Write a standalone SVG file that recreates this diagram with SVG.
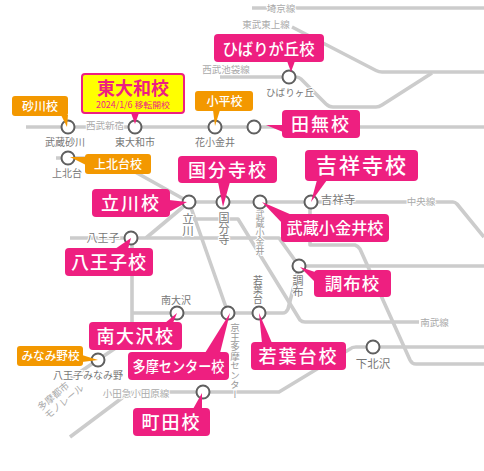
<svg xmlns="http://www.w3.org/2000/svg" width="484" height="471" viewBox="0 0 484 471">
<style>
text{font-family:"Noto Sans CJK JP","Noto Sans",sans-serif}
.l{fill:none;stroke:#ccc;stroke-width:3.600;stroke-linejoin:round}
.st{fill:#fff;stroke:#5f5f5f;stroke-width:2}
.p{fill:#ee1f80}
.o{fill:#f39800}
.w{fill:#fff;text-anchor:middle;font-weight:500}
.s{font-size:10px;fill:#777;text-anchor:middle;paint-order:stroke;stroke:#fff;stroke-width:2px}
.n{font-size:9.5px;fill:#aaa;text-anchor:middle;paint-order:stroke;stroke:#fff;stroke-width:2px}
.v{writing-mode:vertical-rl;text-anchor:start}
</style>
<rect width="484" height="471" fill="#fff"/>
<g id="connectors">
<path class="l" d="M252 8H484"/>
<path class="l" d="M292 27L376 70.500Q379 72 382 72H484"/>
<path class="l" d="M220 77H296Q299 77 301 79L326 104Q329 107 333 107H376Q379 107 382 105L432 73"/>
<path class="l" d="M26 127H484"/>
<path class="l" d="M56 158H110L189 202L228 313"/>
<path class="l" d="M189 202H453Q455 202 457 204L484 237"/>
<path class="l" d="M189 202L146 238"/>
<path class="l" d="M70 238H279L299 266H484"/>
<path class="l" d="M193 219H238L300 320Q302 322 305 322H419"/>
<path class="l" d="M310 202V245H355Q358 246 360 249L410 360Q412 364 416 364H484"/>
<path class="l" d="M132 238V337L71 378"/>
<path class="l" d="M132 313H283Q286 313 288 309L299 266"/>
<path class="l" d="M70 437L122 398Q128 392 135 392H279L350 349Q352 347 356 347H484"/>
</g>
<g id="line-labels">
<text class="n" x="281" y="12">埼京線</text>
<text class="n" x="266" y="28">東武東上線</text>
<text class="n" x="226" y="73">西武池袋線</text>
<text class="n" x="105" y="129">西武新宿</text>
<text class="n" x="421" y="205">中央線</text>
<text class="n" x="434.500" y="326">南武線</text>
<text class="n" x="136" y="397">小田急小田原線</text>
<text class="n" style="text-anchor:start" transform="translate(41 411) rotate(-40)"><tspan x="0" y="0">多摩都市</tspan><tspan x="0" dy="11">モノレール</tspan></text>
</g>
<g id="station-labels">
<text class="s" x="65" y="146">武蔵砂川</text>
<text class="s" x="135" y="146">東大和市</text>
<text class="s" x="215" y="146">花小金井</text>
<text class="s" x="290" y="95.500" style="font-size:9.600px">ひばりヶ丘</text>
<text class="s" x="67" y="177">上北台</text>
<text class="s" x="103" y="242" style="font-size:11px">八王子</text>
<text class="s" x="338" y="203.500" style="font-size:11.500px">吉祥寺</text>
<text class="s" x="176" y="304">南大沢</text>
<text class="s" x="88" y="379">八王子みなみ野</text>
<text class="s" x="373" y="368" style="font-size:11.500px">下北沢</text>
<text class="s v" x="188" y="213" style="font-size:11.500px">立川</text>
<text class="s v" x="224" y="212" style="font-size:11px">国分寺</text>
<text class="s v" x="260" y="210" style="font-size:9px;fill:#999">武蔵小金井</text>
<text class="s v" x="298" y="275" style="font-size:11px">調布</text>
<text class="s v" x="258" y="275" style="font-size:9.800px">若葉台</text>
<text class="s v" x="235" y="323" style="font-size:9.500px;fill:#999">京王多摩センター</text>
</g>
<g id="st-musashisunagawa"><circle class="st" cx="68" cy="127" r="6.500"/></g>
<g id="st-higashiyamato"><circle class="st" cx="135" cy="127" r="6.500"/></g>
<g id="st-hanakoganei"><circle class="st" cx="215" cy="127" r="6.500"/></g>
<g id="st-tanashi"><circle class="st" cx="254" cy="127" r="6.500"/></g>
<g id="st-hibarigaoka"><circle class="st" cx="289" cy="77" r="6.500"/></g>
<g id="st-kamikitadai"><circle class="st" cx="68" cy="158" r="6.500"/></g>
<g id="st-tachikawa"><circle class="st" cx="189" cy="202" r="6.500"/></g>
<g id="st-kokubunji"><circle class="st" cx="223" cy="202" r="6.500"/></g>
<g id="st-musashikoganei"><circle class="st" cx="260" cy="202" r="6.500"/></g>
<g id="st-kichijoji"><circle class="st" cx="311" cy="202" r="6.500"/></g>
<g id="st-hachioji"><circle class="st" cx="131" cy="238" r="6.500"/></g>
<g id="st-chofu"><circle class="st" cx="299" cy="266" r="6.500"/></g>
<g id="st-minamiosawa"><circle class="st" cx="177" cy="313" r="6.500"/></g>
<g id="st-tamacenter"><circle class="st" cx="228" cy="313" r="6.500"/></g>
<g id="st-wakabadai"><circle class="st" cx="259" cy="313" r="6.500"/></g>
<g id="st-shimokitazawa"><circle class="st" cx="373" cy="347" r="6.500"/></g>
<g id="st-minamino"><circle class="st" cx="98" cy="360" r="6.500"/></g>
<g id="st-machida"><circle class="st" cx="203" cy="392" r="6.500"/></g>
<g id="hibarigaoka"><rect class="p" x="214" y="34" width="110" height="28" rx="4"/><path class="p" d="M287 61L291 72L295 61Z"/><text class="w" x="268.500" y="54.500" font-size="16" textLength="92" lengthAdjust="spacingAndGlyphs">ひばりが丘校</text></g>
<g id="higashiyamato"><path d="M131 113L135 124L139 113Z" class="p"/><rect x="82" y="74" width="102" height="39" rx="3" fill="#ff0" stroke="#ee1f80" stroke-width="2"/><text x="133" y="94.500" font-size="18" font-weight="700" fill="#ee1f80" text-anchor="middle">東大和校</text><text x="133" y="108" font-size="8.500" fill="#ee1f80" text-anchor="middle" textLength="74" lengthAdjust="spacingAndGlyphs">2024/1/6 移転開校</text></g>
<g id="sunagawa"><rect class="o" x="12" y="96" width="56" height="20" rx="3"/><path class="o" d="M61 115L67 127L68 115Z"/><text class="w" x="40" y="110.500" font-size="12">砂川校</text></g>
<g id="kodaira"><rect class="o" x="195" y="91" width="58" height="20" rx="3"/><path class="o" d="M213 110L215 126L220 110Z"/><text class="w" x="224.500" y="105.500" font-size="12">小平校</text></g>
<g id="tanashi"><rect class="p" x="282" y="110" width="78" height="28" rx="4"/><path class="p" d="M283 125L266 125L283 132Z"/><text class="w" x="321" y="130.500" font-size="18" letter-spacing="2">田無校</text></g>
<g id="kamikitadai"><rect class="o" x="85" y="154" width="66" height="20" rx="3"/><path class="o" d="M86 157L70 157L86 165Z"/><text class="w" x="118" y="168.500" font-size="12">上北台校</text></g>
<g id="kokubunji"><rect class="p" x="178" y="156" width="99" height="27" rx="4"/><path class="p" d="M218 182L223 207L230 182Z"/><text class="w" x="228" y="176.500" font-size="18" letter-spacing="2">国分寺校</text></g>
<g id="tachikawa"><rect class="p" x="92" y="189" width="78" height="28" rx="4"/><path class="p" d="M169 200L187 202L169 212Z"/><text class="w" x="131" y="209.500" font-size="18" letter-spacing="2">立川校</text></g>
<g id="kichijoji"><rect class="p" x="305" y="150" width="113" height="31" rx="4"/><path class="p" d="M317 180L311 202L327 180Z"/><text class="w" x="362" y="173" font-size="21" letter-spacing="2">吉祥寺校</text></g>
<g id="musashikoganei"><rect class="p" x="281" y="214" width="108" height="28" rx="4"/><path class="p" d="M292 215L262 202L282 223Z"/><text class="w" x="335" y="234" font-size="16" textLength="97" lengthAdjust="spacingAndGlyphs">武蔵小金井校</text></g>
<g id="chofu"><rect class="p" x="314" y="270" width="77" height="27" rx="4"/><path class="p" d="M315 272L300 267L315 282Z"/><text class="w" x="352.500" y="290" font-size="17.500" letter-spacing="1">調布校</text></g>
<g id="hachioji"><rect class="p" x="65" y="248" width="88" height="28" rx="4"/><path class="p" d="M115 249L131 238L128 249Z"/><text class="w" x="109" y="269" font-size="18" letter-spacing="1">八王子校</text></g>
<g id="minamiosawa"><rect class="p" x="89" y="322" width="93" height="28" rx="4"/><path class="p" d="M165 323L177 313L173 323Z"/><text class="w" x="135.500" y="342.500" font-size="18" letter-spacing="1.500">南大沢校</text></g>
<g id="tamacenter"><rect class="p" x="128" y="352" width="101" height="28" rx="4"/><path class="p" d="M205 353L230 313L220 353Z"/><text class="w" x="178.500" y="372" font-size="15" textLength="92" lengthAdjust="spacingAndGlyphs">多摩センター校</text></g>
<g id="minamino"><rect class="o" x="17" y="346" width="66" height="20" rx="3"/><path class="o" d="M82 355L98 360L82 362Z"/><text class="w" x="50.500" y="360" font-size="11.500" textLength="58" lengthAdjust="spacingAndGlyphs">みなみ野校</text></g>
<g id="machida"><rect class="p" x="133" y="408" width="77" height="28" rx="4"/><path class="p" d="M193 409L202 393L202 409Z"/><text class="w" x="171.500" y="429" font-size="18" letter-spacing="2">町田校</text></g>
<g id="wakabadai"><rect class="p" x="251" y="342" width="95" height="28" rx="4"/><path class="p" d="M262 343L259 313L272 343Z"/><text class="w" x="298.500" y="362.500" font-size="18" letter-spacing="2">若葉台校</text></g>
</svg>
